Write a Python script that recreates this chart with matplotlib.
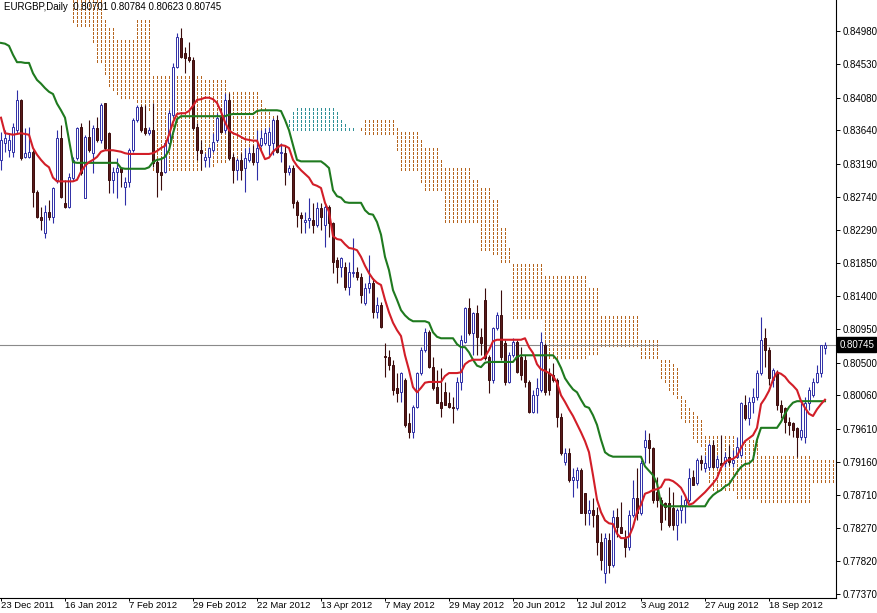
import numpy as np
import matplotlib
matplotlib.use("Agg")
import matplotlib.pyplot as plt

plt.rcParams['font.family'] = ['Liberation Sans', 'DejaVu Sans']

# EURGBP daily, 23 Dec 2011 .. early Oct 2012
opens = [
    .8324, .8347, .8337, .8335, .8364, .8405, .8328, .8328, .8335, .8281,
    .8247, .8225, .8254, .8247, .8297, .8354, .8266, .8260, .8300, .8327,
    .8368, .8273, .8355, .8333, .8367, .8351, .8401, .8360, .8297, .8308,
    .8313, .8287, .8294, .8337, .8378, .8395, .8367, .8360, .8364, .8321,
    .8308, .8308, .8347, .8385, .8449, .8489, .8468, .8463, .8459, .8368,
    .8337, .8324, .8328, .8337, .8351, .8382, .8364, .8405, .8328, .8310,
    .8324, .8313, .8324, .8333, .8321, .8344, .8347, .8344, .8347, .8378,
    .8333, .8333, .8308, .8313, .8267, .8250, .8240, .8243, .8243, .8236,
    .8259, .8236, .8260, .8239, .8189, .8179, .8179, .8152, .8171, .8173,
    .8166, .8131, .8151, .8158, .8118, .8128, .8059, .8058, .8047, .8016,
    .8010, .8027, .7969, .7956, .7990, .8036, .8067, .8091, .8044, .8017,
    .7997, .8010, .7996, .7990, .7989, .8024, .8078, .8124, .8090, .8117,
    .8085, .8135, .8058, .8027, .8097, .8114, .8077, .8024, .8060, .8078,
    .8058, .8054, .8024, .7983, .8006, .8013, .8074, .8036, .8033, .8027,
    .7977, .7916, .7928, .7892, .7892, .7905, .7874, .7847, .7851, .7844,
    .7808, .7766, .7810, .7777, .7842, .7828, .7813, .7801, .7844, .7867,
    .7847, .7936, .7946, .7935, .7875, .7865, .7860, .7860, .7854, .7831,
    .7851, .7858, .7865, .7896, .7887, .7919, .7908, .7909, .7939, .7909,
    .7914, .7914, .7923, .7914, .7923, .7925, .7993, .7975, .7997, .8004,
    .8036, .8083, .8067, .8027, .8037, .7993, .7989, .7970, .7969, .7962,
    .7950, .7950, .7996, .8006, .8024, .8036, .80701]
highs = [
    .8362, .8364, .8360, .8374, .8418, .8406, .8367, .8368, .8337, .8283,
    .8260, .8263, .8270, .8287, .8364, .8371, .8297, .8306, .8328, .8368,
    .8374, .8358, .8378, .8371, .8382, .8401, .8401, .8362, .8314, .8327,
    .8314, .8301, .8340, .8381, .8398, .8398, .8398, .8368, .8401, .8324,
    .8328, .8348, .8391, .8455, .8495, .8502, .8476, .8483, .8463, .8374,
    .8351, .8333, .8341, .8360, .8387, .8394, .8414, .8414, .8333, .8327,
    .8333, .8340, .8341, .8344, .8364, .8364, .8367, .8368, .8381, .8385,
    .8347, .8344, .8317, .8317, .8270, .8254, .8254, .8273, .8266, .8267,
    .8266, .8263, .8263, .8240, .8193, .8193, .8186, .8186, .8218, .8179,
    .8171, .8158, .8195, .8164, .8139, .8132, .8077, .8067, .8054, .8036,
    .8037, .8029, .7982, .7993, .8037, .8071, .8097, .8094, .8058, .8040,
    .8043, .8024, .8010, .8004, .8031, .8087, .8125, .8137, .8118, .8128,
    .8097, .8151, .8060, .8098, .8118, .8148, .8081, .8064, .8083, .8081,
    .8071, .8060, .8027, .8013, .8029, .8091, .8077, .8043, .8050, .8029,
    .7982, .7935, .7935, .7908, .7909, .7908, .7874, .7865, .7867, .7855,
    .7820, .7820, .7820, .7851, .7854, .7862, .7824, .7851, .7892, .7908,
    .7919, .7959, .7955, .7936, .7896, .7869, .7862, .7882, .7875, .7854,
    .7871, .7867, .7908, .7905, .7921, .7925, .7925, .7942, .7946, .7925,
    .7952, .7929, .7939, .7932, .7950, .7997, .8006, .8004, .8016, .8040,
    .8112, .8097, .8071, .8043, .8040, .8000, .7990, .7977, .7970, .7963,
    .7996, .8004, .8017, .8029, .8047, .8074, .80784]
lows = [
    .8310, .8335, .8328, .8328, .8360, .8324, .8327, .8327, .8260, .8246,
    .8229, .8218, .8243, .8239, .8293, .8273, .8259, .8259, .8297, .8324,
    .8304, .8273, .8335, .8306, .8348, .8347, .8337, .8279, .8279, .8273,
    .8287, .8263, .8287, .8335, .8375, .8362, .8358, .8358, .8314, .8274,
    .8283, .8306, .8344, .8382, .8448, .8462, .8441, .8456, .8364, .8324,
    .8310, .8314, .8314, .8335, .8348, .8360, .8360, .8324, .8293, .8297,
    .8297, .8281, .8321, .8317, .8297, .8341, .8344, .8331, .8331, .8333,
    .8321, .8290, .8304, .8259, .8233, .8225, .8225, .8232, .8225, .8233,
    .8229, .8206, .8220, .8171, .8158, .8166, .8148, .8141, .8166, .8162,
    .8131, .8128, .8144, .8110, .8110, .8097, .8031, .8040, .8006, .7997,
    .7997, .7963, .7948, .7948, .7989, .8033, .8064, .8043, .8013, .7996,
    .7977, .7993, .7989, .7969, .7986, .8013, .8077, .8087, .8060, .8060,
    .8060, .8054, .8009, .8023, .8094, .8054, .8020, .8023, .8058, .8036,
    .8027, .8017, .7982, .7982, .7982, .8010, .8006, .8006, .8024, .7963,
    .7925, .7912, .7889, .7869, .7881, .7847, .7831, .7831, .7828, .7790,
    .7770, .7752, .7766, .7774, .7815, .7820, .7787, .7797, .7842, .7837,
    .7844, .7914, .7914, .7860, .7855, .7824, .7837, .7828, .7824, .7810,
    .7833, .7833, .7862, .7885, .7885, .7905, .7902, .7905, .7908, .7908,
    .7909, .7909, .7912, .7909, .7921, .7923, .7973, .7966, .7982, .8000,
    .8033, .8044, .8020, .8017, .7986, .7975, .7955, .7952, .7950, .7923,
    .7946, .7942, .7986, .8004, .8023, .8031, .80623]
closes = [
    .8351, .8354, .8351, .8368, .8405, .8327, .8333, .8335, .8281, .8247,
    .8243, .8254, .8247, .8286, .8354, .8274, .8260, .8301, .8324, .8367,
    .8306, .8355, .8337, .8367, .8351, .8398, .8340, .8297, .8308, .8313,
    .8308, .8294, .8337, .8378, .8395, .8364, .8360, .8364, .8320, .8308,
    .8304, .8347, .8387, .8449, .8490, .8463, .8462, .8459, .8367, .8337,
    .8333, .8328, .8340, .8348, .8381, .8362, .8405, .8327, .8310, .8324,
    .8310, .8327, .8333, .8321, .8340, .8354, .8360, .8362, .8378, .8335,
    .8335, .8308, .8313, .8266, .8250, .8246, .8243, .8246, .8236, .8259,
    .8247, .8260, .8239, .8186, .8179, .8191, .8152, .8173, .8173, .8166,
    .8141, .8151, .8158, .8118, .8128, .8098, .8058, .8047, .8013, .8009,
    .8036, .7966, .7956, .7990, .8036, .8067, .8091, .8044, .8016, .7996,
    .7989, .7993, .7990, .7989, .8024, .8081, .8124, .8090, .8117, .8085,
    .8077, .8056, .8027, .8097, .8114, .8058, .8024, .8060, .8078, .8037,
    .8033, .8024, .7983, .8006, .8016, .8078, .8010, .8013, .8027, .7977,
    .7928, .7928, .7892, .7896, .7905, .7847, .7847, .7851, .7844, .7808,
    .7783, .7813, .7777, .7842, .7828, .7820, .7801, .7844, .7867, .7847,
    .7914, .7946, .7935, .7865, .7865, .7835, .7855, .7831, .7831, .7851,
    .7858, .7865, .7894, .7885, .7919, .7914, .7914, .7939, .7909, .7920,
    .7912, .7923, .7916, .7919, .7936, .7996, .7975, .7997, .8004, .8036,
    .8081, .8067, .8029, .8040, .7993, .7983, .7970, .7966, .7959, .7950,
    .7959, .7996, .8013, .8024, .8036, .8074, .80745]

# Ichimoku lines
tenkan = [
    .8381, .8360, .8359, .8358, .8359, .8360, .8359, .8358, .8340, .8331,
    .8324, .8318, .8314, .8300, .8295, .8295, .8295, .8295, .8295, .8297,
    .8308, .8316, .8321, .8324, .8328, .8335, .8337, .8337, .8337, .8336,
    .8335, .8333, .8332, .8332, .8332, .8332, .8332, .8332, .8333, .8336,
    .8340, .8343, .8358, .8375, .8386, .8387, .8387, .8390, .8397, .8405,
    .8406, .8408, .8408, .8406, .8401, .8389, .8375, .8364, .8360, .8358,
    .8355, .8352, .8351, .8350, .8350, .8337, .8325, .8327, .8335, .8340,
    .8344, .8343, .8340, .8324, .8316, .8310, .8305, .8300, .8291, .8289,
    .8286, .8266, .8254, .8221, .8217, .8216, .8210, .8205, .8204, .8202,
    .8193, .8181, .8171, .8163, .8158, .8155, .8135, .8118, .8104, .8094,
    .8086, .8060, .8040, .8017, .8010, .8016, .8023, .8024, .8024, .8024,
    .8024, .8032, .8036, .8036, .8036, .8037, .8048, .8052, .8054, .8054,
    .8054, .8058, .8067, .8079, .8081, .8081, .8081, .8081, .8081, .8081,
    .8081, .8083, .8071, .8063, .8048, .8041, .8039, .8036, .8032, .8023,
    .8006, .7997, .7987, .7978, .7967, .7956, .7944, .7929, .7898, .7865,
    .7848, .7837, .7833, .7832, .7819, .7813, .7813, .7815, .7828, .7848,
    .7858, .7873, .7875, .7878, .7879, .7882, .7892, .7892, .7890, .7886,
    .7881, .7871, .7858, .7860, .7865, .7870, .7875, .7881, .7887, .7894,
    .7908, .7916, .7919, .7920, .7924, .7935, .7944, .7948, .7952, .7962,
    .7994, .8002, .8012, .8027, .8037, .8035, .8031, .8024, .8019, .8013,
    .7998, .7989, .7981, .7978, .7987, .7994, .8000]
kijun = [
    .8482, .8481, .8478, .8466, .8456, .8456, .8455, .8455, .8441, .8432,
    .8427, .8421, .8416, .8413, .8400, .8391, .8381, .8351, .8321, .8320,
    .8320, .8320, .8320, .8320, .8320, .8320, .8320, .8320, .8320, .8320,
    .8313, .8312, .8312, .8312, .8312, .8312, .8312, .8314, .8321, .8324,
    .8325, .8328, .8337, .8360, .8379, .8383, .8383, .8383, .8383, .8383,
    .8383, .8383, .8383, .8383, .8383, .8383, .8383, .8385, .8386, .8386,
    .8386, .8386, .8386, .8386, .8390, .8391, .8391, .8391, .8391, .8391,
    .8390, .8378, .8364, .8344, .8324, .8322, .8322, .8322, .8322, .8322,
    .8322, .8318, .8313, .8283, .8275, .8273, .8267, .8266, .8266, .8266,
    .8266, .8256, .8251, .8250, .8240, .8223, .8193, .8175, .8148, .8135,
    .8121, .8114, .8109, .8106, .8106, .8106, .8106, .8104, .8091, .8085,
    .8083, .8083, .8083, .8083, .8075, .8071, .8071, .8064, .8054, .8046,
    .8044, .8050, .8051, .8051, .8051, .8051, .8051, .8051, .8051, .8058,
    .8060, .8060, .8060, .8060, .8060, .8060, .8060, .8060, .8060, .8054,
    .8043, .8029, .8021, .8014, .8010, .8000, .7991, .7989, .7979, .7966,
    .7946, .7929, .7925, .7923, .7923, .7923, .7923, .7923, .7923, .7923,
    .7923, .7910, .7904, .7898, .7887, .7860, .7856, .7856, .7856, .7856,
    .7856, .7856, .7856, .7856, .7856, .7856, .7856, .7865, .7871, .7875,
    .7878, .7883, .7886, .7894, .7902, .7909, .7913, .7914, .7919, .7946,
    .7962, .7962, .7962, .7962, .7962, .7970, .7981, .7990, .7996, .7998,
    .7998, .7998, .7998, .7998, .7998, .7998, .7998]
# cloud (already shifted forward), first bars lie above the visible range
span_a = [
    .8565, .8565, .8565, .8565, .8565, .8565, .8565, .8565, .8565, .8565,
    .8565, .8565, .8565, .8565, .8565, .8565, .8565, .8565, .8506, .8505,
    .8504, .8504, .8502, .8479, .8456, .8455, .8439, .8421, .8416, .8408,
    .8405, .8405, .8405, .8405, .8398, .8394, .8391, .8391, .8308, .8306,
    .8306, .8306, .8306, .8306, .8310, .8310, .8310, .8310, .8310, .8310,
    .8310, .8313, .8313, .8313, .8320, .8320, .8320, .8324, .8324, .8324,
    .8324, .8324, .8324, .8324, .8324, .8337, .8351, .8362, .8368, .8374,
    .8377, .8378, .8381, .8389, .8394, .8395, .8395, .8395, .8395, .8395,
    .8395, .8395, .8395, .8395, .8389, .8381, .8375, .8372, .8370, .8367,
    .8363, .8359, .8358, .8358, .8358, .8358, .8358, .8358, .8358, .8337,
    .8310, .8310, .8310, .8310, .8310, .8290, .8283, .8283, .8283, .8283,
    .8283, .8239, .8239, .8239, .8239, .8239, .8239, .8239, .8236, .8236,
    .8202, .8202, .8202, .8195, .8195, .8186, .8186, .8185, .8108, .8108,
    .8108, .8108, .8108, .8108, .8108, .8108, .8054, .8054, .8054, .8054,
    .8054, .8054, .8054, .8054, .8054, .8054, .8054, .8060, .8060, .8060,
    .8070, .8070, .8070, .8070, .8070, .8070, .8070, .8070, .8070, .8070,
    .8056, .8056, .8056, .8056, .8056, .8027, .8020, .8013, .8006, .8000,
    .7973, .7969, .7966, .7946, .7939, .7936, .7905, .7885, .7878, .7878,
    .7878, .7878, .7878, .7878, .7865, .7865, .7865, .7865, .7865, .7865,
    .7860, .7860, .7860, .7860, .7860, .7860, .7860, .7860, .7860, .7860,
    .7860, .7860, .7860, .7887, .7887, .7887, .7887, .7887, .7887]
span_b = [
    .8620, .8620, .8620, .8620, .8620, .8620, .8620, .8620, .8620, .8620,
    .8620, .8620, .8620, .8620, .8620, .8620, .8620, .8620, .8594, .8594,
    .8594, .8594, .8594, .8594, .8594, .8581, .8513, .8506, .8502, .8486,
    .8486, .8486, .8486, .8486, .8513, .8513, .8513, .8513, .8439, .8439,
    .8439, .8439, .8439, .8439, .8439, .8439, .8439, .8439, .8439, .8439,
    .8439, .8436, .8436, .8436, .8432, .8432, .8432, .8418, .8418, .8418,
    .8418, .8418, .8418, .8418, .8418, .8405, .8398, .8391, .8387, .8383,
    .8381, .8378, .8368, .8362, .8360, .8360, .8360, .8360, .8360, .8360,
    .8360, .8360, .8360, .8360, .8360, .8360, .8362, .8363, .8364, .8366,
    .8368, .8378, .8382, .8382, .8382, .8382, .8382, .8382, .8382, .8371,
    .8364, .8364, .8364, .8364, .8364, .8355, .8344, .8344, .8344, .8344,
    .8328, .8317, .8317, .8317, .8317, .8317, .8317, .8317, .8301, .8301,
    .8290, .8290, .8290, .8270, .8270, .8236, .8236, .8209, .8185, .8185,
    .8185, .8185, .8185, .8185, .8185, .8185, .8168, .8168, .8168, .8168,
    .8168, .8168, .8168, .8168, .8168, .8168, .8168, .8152, .8152, .8152,
    .8114, .8114, .8114, .8114, .8114, .8114, .8114, .8114, .8114, .8114,
    .8085, .8085, .8085, .8085, .8085, .8058, .8056, .8054, .8051, .8047,
    .8006, .8000, .7993, .7986, .7979, .7973, .7955, .7955, .7955, .7952,
    .7952, .7952, .7952, .7952, .7950, .7950, .7950, .7950, .7950, .7950,
    .7928, .7928, .7928, .7928, .7928, .7928, .7928, .7928, .7928, .7928,
    .7928, .7928, .7928, .7923, .7923, .7923, .7923, .7923, .7923]

price_ticks = [0.84980, 0.84530, 0.84080, 0.83640, 0.83190, 0.82740, 0.82290,
               0.81850, 0.81400, 0.80950, 0.80500, 0.80060, 0.79610, 0.79160,
               0.78710, 0.78270, 0.77820, 0.77370]
date_labels = ['23 Dec 2011', '16 Jan 2012', '7 Feb 2012', '29 Feb 2012',
               '22 Mar 2012', '13 Apr 2012', '7 May 2012', '29 May 2012',
               '20 Jun 2012', '12 Jul 2012', '3 Aug 2012', '27 Aug 2012',
               '18 Sep 2012']
date_bars = [0, 16, 32, 48, 64, 80, 96, 112, 128, 144, 160, 176, 192]
last_price = 0.80745
title = 'EURGBP,Daily  0.80701 0.80784 0.80623 0.80745'

o = np.array(opens); h = np.array(highs); l = np.array(lows); c = np.array(closes)
n = len(c)
x = np.arange(n)

fig = plt.figure(figsize=(8.78, 6.13), dpi=100)
ax = fig.add_axes([0, 15 / 613, 836 / 878, 598 / 613])
ylo, yhi = 0.77321, 0.85400
ax.set_xlim(-0.25, 208.75)
ax.set_ylim(ylo, yhi)

# cloud: MT4 draws it as a grid of short dots, about 2 px long every 4 px
sa = np.array(span_a); sb = np.array(span_b)
px = (yhi - ylo) / 598.0
row_top = yhi - (np.arange(0, 598, 4) + 0.3) * px
row_bot = row_top - 1.6 * px
dots = {'bull': ([], [], []), 'bear': ([], [], [])}
for i in range(len(sa)):
    top, bot = max(sa[i], sb[i]), min(sa[i], sb[i])
    m = (row_top <= top) & (row_bot >= bot)
    key = 'bull' if sa[i] > sb[i] else 'bear'
    dots[key][0].extend([i] * int(m.sum()))
    dots[key][1].extend(row_bot[m])
    dots[key][2].extend(row_top[m])
for key, col in [('bull', '#2f8f96'), ('bear', '#b5651f')]:
    xs, y0, y1 = dots[key]
    ax.vlines(xs, y0, y1, colors=col, linewidth=0.72, antialiased=False,
              capstyle='butt', zorder=1)

ax.axhline(last_price, color='#8a8a8a', lw=0.8, zorder=1.5)

up = c >= o
bull_col = '#2e2ea6'
bear_body = '#5a1a1a'
bear_edge = '#3a0c0c'
ax.vlines(x[up], l[up], h[up], color=bull_col, lw=0.8, zorder=2)
ax.vlines(x[~up], l[~up], h[~up], color=bear_edge, lw=0.8, zorder=2)
ax.bar(x[up], c[up] - o[up], bottom=o[up], width=0.62, facecolor='white',
       edgecolor=bull_col, linewidth=0.7, zorder=3)
ax.bar(x[~up], o[~up] - c[~up], bottom=c[~up], width=0.62, facecolor=bear_body,
       edgecolor=bear_edge, linewidth=0.7, zorder=3)

ax.plot(np.arange(len(kijun)), kijun, color='#1f7a1f', lw=1.5, zorder=4)
ax.plot(np.arange(len(tenkan)), tenkan, color='#d21e28', lw=1.5, zorder=4)

# MT4 style frame
for s in ['top', 'left']:
    ax.spines[s].set_visible(False)
ax.spines['right'].set_linewidth(0.8)
ax.spines['bottom'].set_linewidth(0.8)
ax.yaxis.tick_right()
ax.set_yticks(price_ticks)
ax.set_yticklabels(['%.5f' % v for v in price_ticks])
ax.tick_params(axis='y', direction='out', length=3, width=0.7, pad=2,
               labelsize=7)
ax.set_xticks(date_bars)
ax.set_xticklabels(date_labels, ha='left')
ax.tick_params(axis='x', direction='out', length=2, width=0.7, pad=0.5,
               labelsize=6.8)

ax.text(1.004, last_price, '0.80745', transform=ax.get_yaxis_transform(),
        va='center', ha='left', fontsize=7, color='white',
        bbox=dict(facecolor='black', edgecolor='black', pad=1.6))
ax.text(0.005, 0.996, title, transform=ax.transAxes, va='top', ha='left',
        fontsize=7, color='black')

fig.savefig('out.png', dpi=100)
